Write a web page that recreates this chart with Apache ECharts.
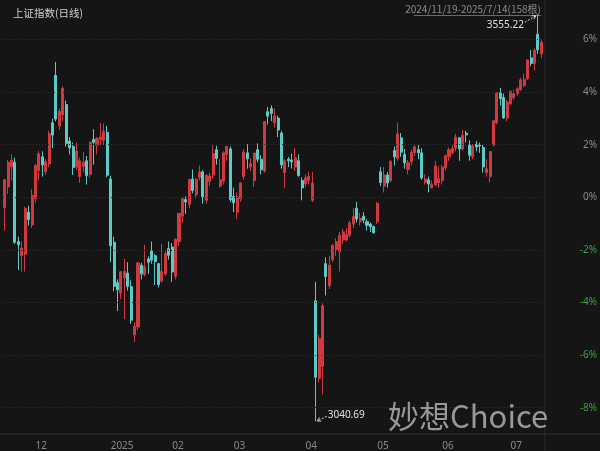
<!DOCTYPE html>
<html><head><meta charset="utf-8">
<script src="https://cdn.jsdelivr.net/npm/echarts@6/dist/echarts.min.js"></script>
<style>html,body{margin:0;padding:0;background:#151515;}#c{width:600px;height:451px;}</style>
</head><body><div id="c"></div>
<script>
const BASE = 3323.85; // previous close before the first bar (0% level)
const TITLE = '上证指数(日线)';
const RANGE_TEXT = '2024/11/19-2025/7/14(158根)';
const WATERMARK = '妙想Choice';

const dates = [
'2024/11/19','2024/11/20','2024/11/21','2024/11/22','2024/11/25','2024/11/26','2024/11/27','2024/11/28','2024/11/29',
'2024/12/02','2024/12/03','2024/12/04','2024/12/05','2024/12/06','2024/12/09','2024/12/10','2024/12/11','2024/12/12','2024/12/13','2024/12/16','2024/12/17','2024/12/18','2024/12/19','2024/12/20','2024/12/23','2024/12/24','2024/12/25','2024/12/26','2024/12/27','2024/12/30','2024/12/31',
'2025/01/02','2025/01/03','2025/01/06','2025/01/07','2025/01/08','2025/01/09','2025/01/10','2025/01/13','2025/01/14','2025/01/15','2025/01/16','2025/01/17','2025/01/20','2025/01/21','2025/01/22','2025/01/23','2025/01/24','2025/01/27',
'2025/02/05','2025/02/06','2025/02/07','2025/02/10','2025/02/11','2025/02/12','2025/02/13','2025/02/14','2025/02/17','2025/02/18','2025/02/19','2025/02/20','2025/02/21','2025/02/24','2025/02/25','2025/02/26','2025/02/27','2025/02/28',
'2025/03/03','2025/03/04','2025/03/05','2025/03/06','2025/03/07','2025/03/10','2025/03/11','2025/03/12','2025/03/13','2025/03/14','2025/03/17','2025/03/18','2025/03/19','2025/03/20','2025/03/21','2025/03/24','2025/03/25','2025/03/26','2025/03/27','2025/03/28','2025/03/31',
'2025/04/01','2025/04/02','2025/04/03','2025/04/07','2025/04/08','2025/04/09','2025/04/10','2025/04/11','2025/04/14','2025/04/15','2025/04/16','2025/04/17','2025/04/18','2025/04/21','2025/04/22','2025/04/23','2025/04/24','2025/04/25','2025/04/28','2025/04/29','2025/04/30',
'2025/05/06','2025/05/07','2025/05/08','2025/05/09','2025/05/12','2025/05/13','2025/05/14','2025/05/15','2025/05/16','2025/05/19','2025/05/20','2025/05/21','2025/05/22','2025/05/23','2025/05/26','2025/05/27','2025/05/28','2025/05/29','2025/05/30',
'2025/06/03','2025/06/04','2025/06/05','2025/06/06','2025/06/09','2025/06/10','2025/06/11','2025/06/12','2025/06/13','2025/06/16','2025/06/17','2025/06/18','2025/06/19','2025/06/20','2025/06/23','2025/06/24','2025/06/25','2025/06/26','2025/06/27','2025/06/30',
'2025/07/01','2025/07/02','2025/07/03','2025/07/04','2025/07/07','2025/07/08','2025/07/09','2025/07/10','2025/07/11','2025/07/14'
];

const opens = [
3311,3337,3362,3368,3268,3250,3252,3305,3289,
3322,3358,3375,3356,3366,3418,3478,3414,3428,3441,3395,3388,3362,3350,3363,3370,3353,3397,3390,3397,3396,3406,
3347,3267,3216,3203,3222,3228,3211,3150,3160,3238,3226,3246,3256,3250,3240,3218,3227,3259,
3261,3224,3268,3300,3321,3315,3347,3327,3349,3356,3320,3344,3352,3384,3338,3344,3378,3385,
3325,3305,3322,3350,3380,3362,3345,3384,3372,3357,3432,3436,3418,3424,3405,3355,3372,3371,3362,3370,3345,
3341,3345,3320,3193,3095,3110,3240,3212,3245,3258,3255,3270,3270,3276,3290,3310,3293,3300,3293,3290,3287,
3293,3356,3338,3352,3345,3383,3373,3399,3378,3359,3369,3380,3384,3380,3343,3346,3336,3340,3342,
3345,3361,3375,3380,3386,3399,3385,3405,3390,3375,3391,3390,3387,3355,3350,3390,3418,3456,3450,3424,
3442,3450,3455,3460,3465,3474,3500,3493,3530,3505
];
const highs = [
3347,3371,3378,3374,3274,3268,3312,3313,3334,
3366,3382,3382,3372,3408,3423,3494.86,3436,3464,3446,3400,3393,3393,3374,3381,3376,3394,3410,3400,3418,3417,3414,
3351,3274,3220,3231,3246,3242,3219,3166,3242,3241,3264,3249,3268,3252,3241,3265,3257,3268,
3266,3272,3304,3323,3325,3347,3359,3348,3364,3358,3353,3355,3390,3389,3372,3382,3389,3388,
3336,3330,3343,3385,3391,3373,3380,3392,3377,3420,3438,3440,3436,3427,3408,3372,3375,3379,3386,3378,3349,
3353,3356,3356,3217,3150,3190,3248,3250,3265,3272,3280,3284,3285,3294,3310,3318,3304,3305,3296,3292,3288,
3318,3362,3362,3356,3371,3388,3418,3405,3385,3371,3384,3391,3390,3386,3353,3350,3345,3370,3363,
3365,3378,3387,3390,3404,3400,3409,3408,3396,3391,3395,3393,3390,3372,3382,3422,3456,3462,3455,3447,
3459,3460,3463,3475,3480,3498,3510,3512,3555.22,3523
];
const lows = [
3282,3328,3345,3265,3232,3230,3230,3288,3285,
3317,3345,3350,3352,3362,3386,3420,3409,3420,3388,3378,3352,3358,3342,3355,3340,3349,3365,3378,3390,3390,3349,
3242,3205,3180,3195,3170,3206,3164,3140.98,3156,3220,3224,3227,3240,3213,3210,3216,3225,3245,
3217,3220,3262,3292,3303,3310,3329,3322,3345,3316,3316,3338,3347,3365,3336,3340,3370,3318,
3305,3296,3318,3346,3360,3357,3337,3368,3353,3355,3416,3420,3412,3400,3360,3336,3362,3360,3357,3350,3320,
3337,3340,3318,3040.69,3090,3075,3200,3208,3242,3250,3230,3265,3268,3273,3285,3292,3288,3291,3282,3280,3278,
3290,3338,3330,3336,3343,3364,3370,3375,3360,3353,3364,3376,3372,3346,3340,3330,3335,3338,3336,
3340,3358,3370,3378,3382,3370,3383,3393,3370,3372,3382,3380,3355,3350,3343,3388,3416,3440,3423,3420,
3440,3447,3452,3458,3463,3472,3490,3484,3505,3500
];
const closes = [
3346.01,3367.99,3370.40,3267.19,3263.76,3259.76,3309.78,3295.70,3326.46,
3363.98,3378.81,3364.65,3368.86,3404.08,3402.53,3422.66,3432.49,3461.50,3391.88,3386.33,3361.49,3382.21,3370.03,3368.07,3351.26,3393.53,3393.35,3398.08,3400.14,3407.33,3351.76,
3262.56,3211.43,3206.92,3229.64,3230.17,3211.39,3168.52,3160.76,3240.94,3227.12,3236.03,3241.82,3244.38,3242.62,3213.62,3230.16,3252.63,3250.60,
3229.49,3270.66,3303.67,3322.17,3318.06,3346.39,3332.48,3346.72,3355.83,3324.49,3351.54,3350.78,3379.11,3373.03,3346.04,3380.21,3388.06,3320.90,
3316.93,3324.21,3341.96,3381.10,3372.55,3366.16,3379.83,3371.92,3358.73,3419.56,3426.43,3429.76,3426.43,3408.95,3364.83,3370.03,3369.98,3368.70,3373.75,3351.31,3335.75,
3348.44,3350.13,3342.01,3096.58,3145.55,3186.81,3223.64,3238.23,3262.81,3267.66,3276.00,3280.34,3276.73,3291.43,3299.76,3296.36,3297.29,3295.06,3288.41,3286.65,3279.03,
3316.11,3342.67,3352.00,3342.00,3369.24,3374.87,3403.95,3380.82,3367.46,3367.58,3380.48,3387.57,3380.19,3348.37,3346.84,3340.69,3339.93,3363.45,3347.49,
3361.98,3376.20,3384.10,3385.36,3399.77,3384.82,3402.32,3402.66,3377.00,3388.73,3387.40,3388.81,3362.11,3359.90,3381.58,3420.57,3455.97,3448.45,3424.23,3444.43,
3457.75,3454.79,3461.15,3472.32,3473.13,3497.48,3493.05,3509.68,3510.18,3519.65
];

// x-axis tick labels (first trading day of each month)
const monthTicks = ['2024/12/02','2025/01/02','2025/02/05','2025/03/03','2025/04/01','2025/05/06','2025/06/03','2025/07/01'];
const monthLabels = ['12','2025','02','03','04','05','06','07'];
// y-axis tick labels (percent vs BASE)
const yTicks = [-8,-6,-4,-2,0,2,4,6];

const UP = '#cf3a40', DOWN = '#5ccbc8';
const pct = v => (v / BASE - 1) * 100;
const kdata = dates.map((d, i) => [pct(opens[i]), pct(closes[i]), pct(lows[i]), pct(highs[i])]);

const chart = echarts.init(document.getElementById('c'), null, {renderer: 'canvas'});
const option = {
  backgroundColor: '#151515',
  animation: false,
  title: {
    text: TITLE, left: 8, top: 3,
    textStyle: {color: '#cfcfcf', fontSize: 10.5, fontWeight: 'normal', fontFamily: '"Noto Sans CJK SC", sans-serif'}
  },
  grid: {left: 3, right: 55, top: 13.2, bottom: 15.4},
  xAxis: {
    type: 'category', data: dates, boundaryGap: true,
    axisLine: {show: false}, axisTick: {show: false}, splitLine: {show: false},
    axisLabel: {
      interval: (idx, val) => monthTicks.indexOf(val) >= 0,
      formatter: val => monthLabels[monthTicks.indexOf(val)] || '',
      color: '#8a8a8a', fontSize: 10, align: 'left', margin: 7,
      fontFamily: '"Noto Sans", sans-serif'
    }
  },
  yAxis: {
    type: 'value', position: 'right', min: -9, max: 7, interval: 1, scale: false,
    axisLine: {show: false}, axisTick: {show: false}, splitLine: {show: false},
    axisLabel: {
      formatter: v => yTicks.indexOf(v) >= 0 ? v + '%' : '',
      color: v => (+v < 0 ? '#3e9e4a' : '#8c8c8c'),
      fontSize: 10, align: 'right', margin: 54,
      fontFamily: '"Noto Sans", sans-serif'
    }
  },
  series: [{
    type: 'candlestick', data: kdata, barWidth: '74%',
    itemStyle: {color: UP, color0: DOWN, borderColor: UP, borderColor0: DOWN, borderWidth: 1},
    markLine: {
      silent: true, symbol: 'none', label: {show: false},
      lineStyle: {color: '#303030', type: [1, 2], width: 1},
      data: yTicks.map(v => ({yAxis: v}))
    }
  }]
};
chart.setOption(option);

const hiIdx = highs.indexOf(Math.max(...highs));
const loIdx = lows.indexOf(Math.min(...lows));
const hp = chart.convertToPixel({xAxisIndex: 0, yAxisIndex: 0}, [hiIdx, pct(highs[hiIdx])]);
const lp = chart.convertToPixel({xAxisIndex: 0, yAxisIndex: 0}, [loIdx, pct(lows[loIdx])]);
const yBottom = chart.convertToPixel({yAxisIndex: 0}, -9);
const xRight = chart.convertToPixel({xAxisIndex: 0}, dates.length - 1) + 3.5;

function arrow(x1, y1, x2, y2) {
  const dx = x2 - x1, dy = y2 - y1, L = Math.hypot(dx, dy), ux = dx / L, uy = dy / L;
  const s = 3.5, w = 2;
  return [
    {type: 'line', silent: true, shape: {x1, y1, x2, y2}, style: {stroke: '#d8d8d8', lineWidth: 1, lineDash: [2, 1.5]}, z: 10},
    {type: 'polyline', silent: true, shape: {points: [[x2 - ux * s - uy * w, y2 - uy * s + ux * w], [x2, y2], [x2 - ux * s + uy * w, y2 - uy * s - ux * w]]},
     style: {stroke: '#d8d8d8', lineWidth: 1, fill: null}, z: 10}
  ];
}

chart.setOption({
  graphic: [
    {type: 'line', silent: true, shape: {x1: xRight, y1: 0, x2: xRight, y2: 451}, style: {stroke: '#2b2b2b', lineWidth: 1}},
    {type: 'line', silent: true, shape: {x1: 0, y1: yBottom, x2: 600, y2: yBottom}, style: {stroke: '#333333', lineWidth: 1}},
    {type: 'text', silent: true, x: 541, y: 9, style: {text: RANGE_TEXT, align: 'right', verticalAlign: 'middle', fill: '#8a8a8a', font: '10px "Noto Sans CJK SC", "Noto Sans", sans-serif'}},
    {type: 'line', silent: true, shape: {x1: 414, y1: 15.5, x2: 541, y2: 15.5}, style: {stroke: '#6a6a6a', lineWidth: 1}},
    {type: 'text', silent: true, x: hp[0] - 14, y: hp[1] + 11, style: {text: highs[hiIdx].toFixed(2), align: 'right', verticalAlign: 'middle', fill: '#e2e2e2', font: '10px "Noto Sans", sans-serif'}, z: 10},
    ...arrow(hp[0] - 13, hp[1] + 8, hp[0] - 2, hp[1] + 1.5),
    {type: 'text', silent: true, x: lp[0] + 12, y: lp[1] - 6, style: {text: lows[loIdx].toFixed(2), align: 'left', verticalAlign: 'middle', fill: '#e2e2e2', font: '10px "Noto Sans", sans-serif'}, z: 10},
    ...arrow(lp[0] + 11, lp[1] - 5, lp[0] + 1.5, lp[1] - 0.5),
    {type: 'text', silent: true, x: 388, y: 416, style: {text: WATERMARK, align: 'left', verticalAlign: 'middle', fill: 'rgba(175,175,175,0.85)', font: '31px "Noto Sans CJK SC", sans-serif'}, z: 20}
  ]
});
</script>
</body></html>
